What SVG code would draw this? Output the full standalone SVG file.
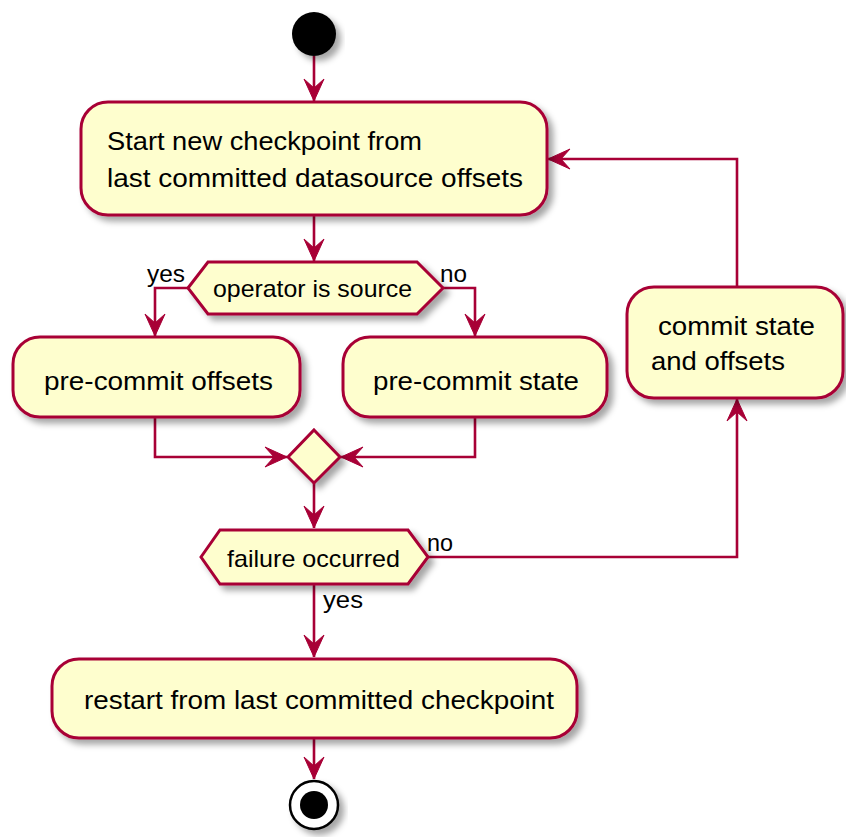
<svg xmlns="http://www.w3.org/2000/svg" width="846" height="837" viewBox="0 0 846 837">
  <style>
    .act { fill: #FEFECE; stroke: #A80036; stroke-width: 3; filter: url(#shadow); }
    .conn { fill: none; stroke: #A80036; stroke-width: 2.6; }
    .t { font-family: "Liberation Sans", Arial, sans-serif; font-size: 26px; fill: #000; }
    .ts { font-family: "Liberation Sans", Arial, sans-serif; font-size: 24px; fill: #000; }
  </style>
  <defs>
    <filter id="shadow" x="-20%" y="-20%" width="140%" height="150%">
      <feGaussianBlur in="SourceAlpha" stdDeviation="3"/>
      <feOffset dx="5" dy="5" result="b"/>
      <feFlood flood-color="#000" flood-opacity="0.35"/>
      <feComposite in2="b" operator="in"/>
      <feMerge>
        <feMergeNode/>
        <feMergeNode in="SourceGraphic"/>
      </feMerge>
    </filter>
    <marker id="arrow" viewBox="-23 -11 24 22" refX="0" refY="0" markerWidth="24" markerHeight="22" markerUnits="userSpaceOnUse" orient="auto">
      <path d="M0,0 L-22,-10 L-13,0 L-22,10 Z" fill="#A80036" stroke="#A80036" stroke-width="1"/>
    </marker>
  </defs>

  <rect width="846" height="837" fill="#FFFFFF"/>

  <!-- connectors -->
  <g id="connectors">
    <path class="conn" d="M314,56 L314,101" marker-end="url(#arrow)"/>
    <path class="conn" d="M314,215 L314,261" marker-end="url(#arrow)"/>
    <path class="conn" d="M188,288 L155,288 L155,336" marker-end="url(#arrow)"/>
    <path class="conn" d="M443,288 L475,288 L475,336" marker-end="url(#arrow)"/>
    <path class="conn" d="M155,417 L155,457 L287,457" marker-end="url(#arrow)"/>
    <path class="conn" d="M475,417 L475,457 L341,457" marker-end="url(#arrow)"/>
    <path class="conn" d="M314,483 L314,528" marker-end="url(#arrow)"/>
    <path class="conn" d="M314,584 L314,657" marker-end="url(#arrow)"/>
    <path class="conn" d="M428,557 L737,557 L737,399" marker-end="url(#arrow)"/>
    <path class="conn" d="M737,287 L737,159 L548,159" marker-end="url(#arrow)"/>
    <path class="conn" d="M314,738 L314,779" marker-end="url(#arrow)"/>
    <text class="ts" x="147" y="282" textLength="38" lengthAdjust="spacingAndGlyphs">yes</text>
    <text class="ts" x="440" y="282" textLength="27" lengthAdjust="spacingAndGlyphs">no</text>
    <text class="ts" x="427" y="551" textLength="26" lengthAdjust="spacingAndGlyphs">no</text>
    <text class="ts" x="323" y="608" textLength="40" lengthAdjust="spacingAndGlyphs">yes</text>
  </g>

  <!-- start -->
  <g id="start">
    <circle cx="314" cy="34" r="22" fill="#000" filter="url(#shadow)"/>
  </g>

  <g id="start-checkpoint">
    <rect class="act" x="81" y="102" width="466" height="113" rx="27" ry="27"/>
    <text class="t" x="107" y="150" textLength="315" lengthAdjust="spacingAndGlyphs">Start new checkpoint from</text>
    <text class="t" x="107" y="187" textLength="416" lengthAdjust="spacingAndGlyphs">last committed datasource offsets</text>
  </g>

  <g id="is-source">
    <polygon class="act" points="188,288 208,262 417,262 443,288 417,314 208,314"/>
    <text class="ts" x="213" y="297" textLength="199" lengthAdjust="spacingAndGlyphs">operator is source</text>
  </g>

  <g id="precommit-offsets">
    <rect class="act" x="13" y="337" width="287" height="80" rx="27" ry="27"/>
    <text class="t" x="44" y="390" textLength="229" lengthAdjust="spacingAndGlyphs">pre-commit offsets</text>
  </g>

  <g id="precommit-state">
    <rect class="act" x="343" y="337" width="264" height="80" rx="27" ry="27"/>
    <text class="t" x="373" y="390" textLength="206" lengthAdjust="spacingAndGlyphs">pre-commit state</text>
  </g>

  <g id="merge">
    <polygon class="act" points="314,430 340,457 314,483 288,457"/>
  </g>

  <g id="failure">
    <polygon class="act" points="201,557 220,530 408,530 428,557 408,584 220,584"/>
    <text class="ts" x="227" y="567" textLength="173" lengthAdjust="spacingAndGlyphs">failure occurred</text>
  </g>

  <g id="commit">
    <rect class="act" x="627" y="287" width="216" height="111" rx="27" ry="27"/>
    <text class="t" x="658" y="335" textLength="157" lengthAdjust="spacingAndGlyphs">commit state</text>
    <text class="t" x="651" y="370" textLength="134" lengthAdjust="spacingAndGlyphs">and offsets</text>
  </g>

  <g id="restart">
    <rect class="act" x="52" y="659" width="525" height="79" rx="27" ry="27"/>
    <text class="t" x="84" y="709" textLength="470" lengthAdjust="spacingAndGlyphs">restart from last committed checkpoint</text>
  </g>

  <!-- end -->
  <g id="end">
    <circle cx="314" cy="805" r="24" fill="#FFF" stroke="#000" stroke-width="2.5" filter="url(#shadow)"/>
    <circle cx="314" cy="805" r="14" fill="#000"/>
  </g>
</svg>
